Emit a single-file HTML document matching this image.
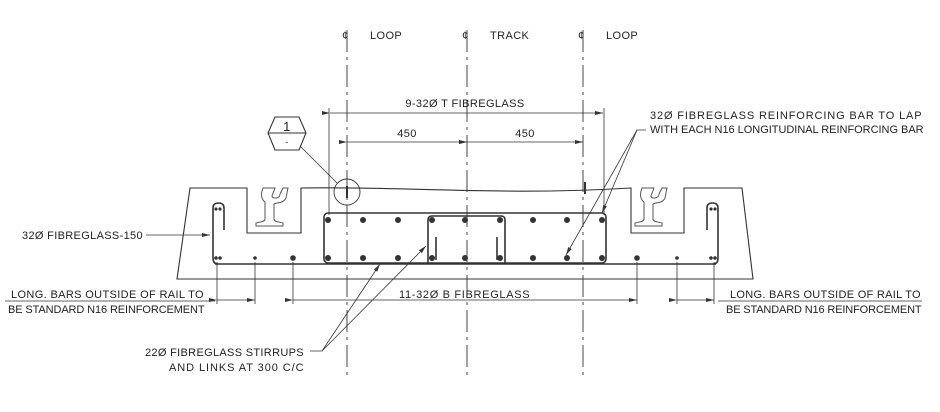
<!DOCTYPE html>
<html><head><meta charset="utf-8"><style>
body{margin:0;background:#fff}
svg{display:block}
text{font-family:"Liberation Sans",sans-serif;font-size:11px;fill:#222;letter-spacing:0.4px}
</style></head><body>
<svg width="940" height="412" viewBox="0 0 940 412" xmlns="http://www.w3.org/2000/svg">
<defs>
<marker id="a" markerWidth="8" markerHeight="6" refX="8" refY="3" orient="auto" markerUnits="userSpaceOnUse"><path d="M0,1 L8,3 L0,5z" fill="#333"/></marker>
</defs>
<g stroke="#333" fill="none" stroke-width="1">
<g stroke-dasharray="22,5,3,5" stroke-width="0.9">
<line x1="347" y1="30" x2="347" y2="380"/>
<line x1="467" y1="30" x2="467" y2="380"/>
<line x1="583" y1="30" x2="583" y2="380"/>
</g>
<path d="M190,188 L247,188 L247,233 L301,233 L301,188 C400,186 500,196 631,188 L631,233 L684,233 L684,188 L742,188 L753,279 L177,279 Z" stroke-width="1.1"/>
<g stroke="#555" stroke-width="1">
<path d="M263,188 h12 l-3,8 c0,3 8,3 8,-2 l3,-6 h5 l-2,10 c-3,6 -9,4 -12,6 v15 c0,3 6,3 9,4 v3 h-27 v-3 c3,-1 9,-1 9,-4 v-17 c-3,-2 -5,-7 -2,-14z"/>
<path d="M642,188 h12 l-3,8 c0,3 8,3 8,-2 l3,-6 h5 l-2,10 c-3,6 -9,4 -12,6 v15 c0,3 6,3 9,4 v3 h-27 v-3 c3,-1 9,-1 9,-4 v-17 c-3,-2 -5,-7 -2,-14z"/>
</g>
<g stroke-width="1.6">
<line x1="215" y1="264" x2="716" y2="264"/>
<rect x="324" y="213" width="282" height="50" rx="4"/>
<path d="M428,263 V220 Q428,216 432,216 H501 Q505,216 505,220 V263"/>
<line x1="436" y1="237" x2="436" y2="260"/>
<line x1="497" y1="237" x2="497" y2="260"/>
<path d="M224,230 V208 Q224,203 218.5,203 Q213,203 213,208 V258 Q213,264 218,264"/>
<path d="M707,230 V208 Q707,203 712.5,203 Q718,203 718,208 V258 Q718,264 713,264"/>
</g>
<g stroke-width="0.8">
<line x1="330" y1="113" x2="603" y2="113" marker-start="url(#a)" marker-end="url(#a)"/>
<line x1="329" y1="108" x2="329" y2="215"/>
<line x1="604" y1="108" x2="604" y2="215"/>
<line x1="347" y1="142" x2="467" y2="142" marker-start="url(#a)" marker-end="url(#a)"/>
<line x1="467" y1="142" x2="583" y2="142" marker-start="url(#a)" marker-end="url(#a)"/>
<line x1="217" y1="300" x2="255" y2="300" marker-start="url(#a)" marker-end="url(#a)"/>
<line x1="217" y1="262" x2="217" y2="304"/><line x1="255" y1="262" x2="255" y2="304"/>
<line x1="293" y1="300" x2="637" y2="300" marker-start="url(#a)" marker-end="url(#a)"/>
<line x1="293" y1="262" x2="293" y2="304"/><line x1="637" y1="262" x2="637" y2="304"/>
<line x1="677" y1="300" x2="714" y2="300" marker-start="url(#a)" marker-end="url(#a)"/>
<line x1="677" y1="262" x2="677" y2="304"/><line x1="714" y1="262" x2="714" y2="304"/>
<line x1="5" y1="301" x2="215" y2="301"/>
<line x1="718" y1="301" x2="922" y2="301"/>
<line x1="146" y1="235" x2="210" y2="235" marker-end="url(#a)"/>
<path d="M310,351 H322 L380,264" marker-end="url(#a)"/>
<line x1="322" y1="351" x2="426" y2="246" marker-end="url(#a)"/>
<path d="M646,130 H637 L602,213" marker-end="url(#a)"/>
<line x1="637" y1="130" x2="566" y2="255" marker-end="url(#a)"/>
<line x1="300" y1="146" x2="337" y2="183"/>
</g>
<circle cx="347" cy="192" r="13" stroke-width="0.9"/>
<path d="M275,117 H299 L306,133 L299,150 H275 L268,133 Z" stroke-width="1.1"/>
<line x1="268" y1="133" x2="306" y2="133" stroke-width="0.9"/>
<line x1="585" y1="182" x2="585" y2="194" stroke-width="2"/>
<line x1="347" y1="186" x2="347" y2="198" stroke-width="2"/>
</g>
<g fill="#333">
<circle cx="328" cy="220" r="3"/><circle cx="363" cy="220" r="3"/><circle cx="398" cy="220" r="3"/><circle cx="432" cy="220" r="3"/><circle cx="465" cy="220" r="3"/><circle cx="500" cy="220" r="3"/><circle cx="533" cy="220" r="3"/><circle cx="567" cy="220" r="3"/><circle cx="602" cy="220" r="3"/>
<circle cx="328" cy="258" r="3"/><circle cx="363" cy="258" r="3"/><circle cx="398" cy="258" r="3"/><circle cx="432" cy="258" r="3"/><circle cx="465" cy="258" r="3"/><circle cx="500" cy="258" r="3"/><circle cx="533" cy="258" r="3"/><circle cx="567" cy="258" r="3"/><circle cx="602" cy="258" r="3"/>
<circle cx="293" cy="258" r="2.8"/><circle cx="255" cy="258" r="1.8"/><circle cx="216" cy="258" r="1.8"/><circle cx="220" cy="258" r="1.8"/>
<circle cx="216" cy="209" r="1.6"/><circle cx="220" cy="209" r="1.6"/>
<circle cx="637" cy="258" r="2.8"/><circle cx="677" cy="258" r="1.8"/><circle cx="711" cy="258" r="1.8"/><circle cx="715" cy="258" r="1.8"/>
<circle cx="711" cy="209" r="1.6"/><circle cx="715" cy="209" r="1.6"/>
</g>
<text x="342" y="39">¢</text><text x="370" y="39">LOOP</text>
<text x="462" y="39">¢</text><text x="490" y="39">TRACK</text>
<text x="578" y="39">¢</text><text x="606" y="39">LOOP</text>
<text x="465" y="107" text-anchor="middle">9-32Ø  T FIBREGLASS</text>
<text x="407" y="137" text-anchor="middle">450</text>
<text x="525" y="137" text-anchor="middle">450</text>
<text x="287" y="131" text-anchor="middle" style="font-size:13px">1</text>
<text x="287" y="145" text-anchor="middle" style="font-size:9px">-</text>
<text x="650" y="119" textLength="272">32Ø  FIBREGLASS REINFORCING BAR TO LAP</text>
<text x="650" y="133" textLength="274">WITH EACH N16 LONGITUDINAL REINFORCING BAR</text>
<text x="22" y="239" textLength="121">32Ø  FIBREGLASS-150</text>
<text x="11" y="298" textLength="193">LONG. BARS OUTSIDE OF RAIL TO</text>
<text x="8" y="313" textLength="197">BE STANDARD N16 REINFORCEMENT</text>
<text x="399" y="298" textLength="131">11-32Ø  B FIBREGLASS</text>
<text x="730" y="298" textLength="191">LONG. BARS OUTSIDE OF RAIL TO</text>
<text x="726" y="313" textLength="196">BE STANDARD N16 REINFORCEMENT</text>
<text x="145" y="356" textLength="159">22Ø  FIBREGLASS STIRRUPS</text>
<text x="169" y="371" textLength="135">AND LINKS AT 300 C/C</text>
</svg>
</body></html>
